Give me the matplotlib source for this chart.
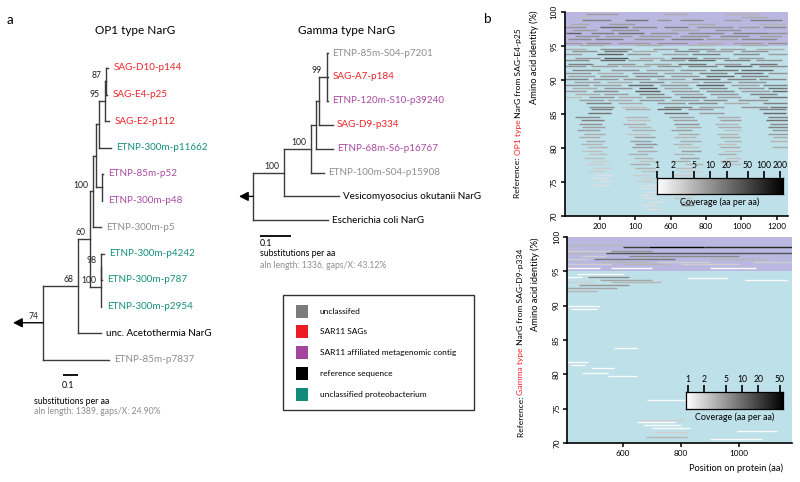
import numpy as np
import matplotlib
matplotlib.use("Agg")
import matplotlib.pyplot as plt
from matplotlib.colors import LogNorm, LinearSegmentedColormap
from matplotlib.collections import LineCollection
from matplotlib.patches import Rectangle
from matplotlib import font_manager

# narrow face if the system has it, else Lato
_names = {f.name for f in font_manager.fontManager.ttflist}
MAIN = 'Liberation Sans Narrow' if 'Liberation Sans Narrow' in _names else 'Lato'
plt.rcParams['font.family'] = [MAIN, 'DejaVu Sans']

# ---------------- data ----------------
# trees in newick form, branch lengths in substitutions per aa, support as node names
op1_newick = ("((((((((SAG-D10-p144:0.01,SAG-E4-p25:0.003)87:0.01,SAG-E2-p112:0.027)95:0.04,"
              "ETNP-300m-p11662:0.08):0.02,(ETNP-85m-p52:0.007,ETNP-300m-p48:0.002):0.04):0.02,"
              "ETNP-300m-p5:0.053)100:0.02,((ETNP-300m-p4242:0.02,ETNP-300m-p787:0.003)98:0.001,"
              "ETNP-300m-p2954:0.003)100:0.073)60:0.08,unc. Acetothermia NarG:0.153)68:0.233,"
              "ETNP-85m-p7837:0.44)74;")
op1_groups = {"SAG-D10-p144": "sag", "SAG-E4-p25": "sag", "SAG-E2-p112": "sag",
              "ETNP-300m-p11662": "proteo", "ETNP-85m-p52": "meta", "ETNP-300m-p48": "meta",
              "ETNP-300m-p5": "uncl", "ETNP-300m-p4242": "proteo", "ETNP-300m-p787": "proteo",
              "ETNP-300m-p2954": "proteo", "unc. Acetothermia NarG": "ref", "ETNP-85m-p7837": "uncl"}

gamma_newick = ("((((((ETNP-85m-S04-p7201:0.003,SAG-A7-p184:0.003,ETNP-120m-S10-p39240:0.003)99:0.026,"
                "SAG-D9-p334:0.045):0.01,ETNP-68m-S6-p16767:0.055):0.016,ETNP-100m-S04-p15908:0.042)100:0.087,"
                "Vesicomyosocius okutanii NarG:0.177)100:0.1,Escherichia coli NarG:0.242);")
gamma_groups = {"ETNP-85m-S04-p7201": "uncl", "SAG-A7-p184": "sag", "ETNP-120m-S10-p39240": "meta",
                "SAG-D9-p334": "sag", "ETNP-68m-S6-p16767": "meta", "ETNP-100m-S04-p15908": "uncl",
                "Vesicomyosocius okutanii NarG": "ref", "Escherichia coli NarG": "ref"}

legend_labels = ["unclassifed", "SAR11 SAGs", "SAR11 affiliated metagenomic contig",
                 "reference sequence", "unclassified proteobacterium"]
legend_keys = ["uncl", "sag", "meta", "ref", "proteo"]

# recruited reads: (start aa, end aa, identity %, coverage)
op1_reads = [
    (120, 300, 99.7, 8), (560, 700, 99.7, 6), (900, 1100, 99.7, 5),
    (80, 160, 99.2, 4), (1000, 1150, 99.2, 6),
    (100, 260, 98.8, 15), (340, 470, 98.8, 20), (520, 600, 98.8, 10), (650, 780, 98.8, 12), (900, 1000, 98.8, 8), (1050, 1230, 98.8, 15),
    (30, 140, 98.3, 6), (250, 400, 98.3, 8), (700, 850, 98.3, 6), (1100, 1250, 98.3, 5),
    (0, 120, 97.8, 10), (200, 360, 97.8, 25), (380, 520, 97.8, 12), (560, 700, 97.8, 15), (750, 950, 97.8, 10), (980, 1100, 97.8, 8), (1120, 1250, 97.8, 12),
    (40, 180, 97.3, 8), (260, 420, 97.3, 10), (600, 760, 97.3, 6), (850, 1000, 97.3, 10),
    (10, 90, 96.9, 30), (150, 280, 96.9, 15), (300, 450, 96.9, 20), (480, 640, 96.9, 10), (700, 900, 96.9, 12), (950, 1150, 96.9, 15), (1150, 1260, 96.9, 10),
    (60, 200, 96.4, 10), (230, 380, 96.4, 8), (420, 600, 96.4, 8), (650, 820, 96.4, 10), (880, 1040, 96.4, 12), (1100, 1230, 96.4, 8),
    (20, 150, 96.0, 12), (170, 330, 96.0, 15), (390, 560, 96.0, 10), (600, 780, 96.0, 15), (800, 980, 96.0, 8), (1000, 1200, 96.0, 12),
    (0, 100, 95.5, 8), (120, 260, 95.5, 10), (300, 480, 95.5, 8), (520, 700, 95.5, 10), (750, 900, 95.5, 6), (950, 1120, 95.5, 8), (1150, 1260, 95.5, 10),
    (80, 220, 95.2, 6), (400, 550, 95.2, 6), (700, 850, 95.2, 5), (1000, 1150, 95.2, 6),
    (0, 120, 94.6, 6), (200, 380, 94.6, 12), (500, 640, 94.6, 8), (700, 850, 94.6, 10), (880, 1020, 94.6, 8), (1080, 1240, 94.6, 6),
    (40, 180, 94.2, 10), (220, 350, 94.2, 20), (380, 520, 94.2, 6), (620, 760, 94.2, 12), (800, 950, 94.2, 8), (1000, 1150, 94.2, 10),
    (0, 100, 93.8, 8), (180, 330, 93.8, 30), (350, 480, 93.8, 10), (550, 700, 93.8, 8), (720, 880, 93.8, 15), (950, 1100, 93.8, 12), (1150, 1260, 93.8, 8),
    (60, 200, 93.3, 10), (220, 360, 93.3, 35), (420, 560, 93.3, 6), (600, 750, 93.3, 20), (780, 930, 93.3, 10), (980, 1130, 93.3, 8),
    (0, 140, 92.9, 12), (200, 340, 92.9, 25), (360, 500, 92.9, 8), (540, 680, 92.9, 10), (700, 850, 92.9, 25), (900, 1050, 92.9, 15), (1080, 1230, 92.9, 10),
    (20, 160, 92.4, 15), (240, 400, 92.4, 10), (450, 600, 92.4, 8), (640, 800, 92.4, 20), (850, 1000, 92.4, 10), (1050, 1200, 92.4, 20),
    (0, 120, 92.0, 10), (150, 300, 92.0, 8), (320, 480, 92.0, 6), (520, 660, 92.0, 10), (700, 860, 92.0, 15), (900, 1060, 92.0, 25), (1100, 1260, 92.0, 12),
    (40, 200, 91.5, 12), (260, 420, 91.5, 10), (460, 620, 91.5, 8), (650, 800, 91.5, 10), (820, 980, 91.5, 20), (1000, 1180, 91.5, 25),
    (0, 150, 91.1, 10), (180, 330, 91.1, 6), (380, 520, 91.1, 10), (560, 720, 91.1, 8), (760, 920, 91.1, 15), (960, 1120, 91.1, 20), (1150, 1260, 91.1, 10),
    (20, 170, 90.6, 8), (200, 360, 90.6, 10), (400, 560, 90.6, 12), (600, 760, 90.6, 10), (800, 960, 90.6, 25), (1000, 1150, 90.6, 15),
    (0, 130, 90.2, 15), (160, 300, 90.2, 10), (330, 480, 90.2, 10), (520, 680, 90.2, 8), (720, 880, 90.2, 20), (920, 1080, 90.2, 15), (1100, 1250, 90.2, 12),
    (50, 200, 89.7, 8), (240, 380, 89.7, 6), (420, 560, 89.7, 12), (600, 760, 89.7, 6), (780, 940, 89.7, 12), (980, 1140, 89.7, 10),
    (0, 140, 89.3, 10), (160, 320, 89.3, 8), (360, 500, 89.3, 25), (540, 700, 89.3, 10), (740, 900, 89.3, 30), (940, 1100, 89.3, 8), (1120, 1260, 89.3, 15),
    (40, 180, 88.8, 6), (220, 380, 88.8, 10), (420, 520, 88.8, 35), (560, 720, 88.8, 8), (760, 920, 88.8, 15), (980, 1130, 88.8, 10), (1150, 1260, 88.8, 20),
    (0, 120, 88.4, 8), (160, 300, 88.4, 12), (400, 540, 88.4, 30), (600, 760, 88.4, 10), (800, 960, 88.4, 12), (1000, 1160, 88.4, 8), (1170, 1260, 88.4, 25),
    (60, 200, 87.9, 6), (220, 360, 87.9, 8), (420, 560, 87.9, 15), (620, 780, 87.9, 8), (820, 980, 87.9, 10), (1050, 1200, 87.9, 15),
    (0, 100, 87.5, 4), (140, 280, 87.5, 10), (300, 440, 87.5, 6), (460, 600, 87.5, 12), (650, 800, 87.5, 15), (860, 1000, 87.5, 8), (1100, 1260, 87.5, 20),
    (80, 220, 87.0, 8), (240, 380, 87.0, 6), (420, 560, 87.0, 10), (600, 760, 87.0, 8), (780, 920, 87.0, 12), (980, 1150, 87.0, 10),
    (120, 260, 86.6, 15), (300, 440, 86.6, 6), (520, 680, 86.6, 10), (700, 860, 86.6, 12), (900, 1040, 86.6, 6), (1120, 1260, 86.6, 15),
    (140, 280, 86.1, 12), (320, 460, 86.1, 4), (560, 720, 86.1, 15), (760, 900, 86.1, 8), (1000, 1150, 86.1, 10), (1160, 1260, 86.1, 20),
    (150, 270, 85.7, 15), (340, 480, 85.7, 6), (520, 660, 85.7, 25), (700, 840, 85.7, 10), (1100, 1250, 85.7, 15),
    (130, 260, 85.2, 20), (560, 700, 85.2, 20), (760, 900, 85.2, 8), (1120, 1250, 85.2, 25),
    (60, 200, 84.6, 12), (340, 470, 84.6, 5), (590, 730, 84.6, 8), (860, 990, 84.6, 6), (1150, 1265, 84.6, 15),
    (90, 220, 84.1, 15), (350, 480, 84.1, 4), (610, 750, 84.1, 8), (880, 1000, 84.1, 8), (1140, 1265, 84.1, 20),
    (80, 210, 83.6, 10), (330, 460, 83.6, 6), (620, 760, 83.6, 10), (850, 980, 83.6, 5), (1160, 1265, 83.6, 12),
    (100, 230, 83.1, 8), (360, 490, 83.1, 5), (630, 770, 83.1, 6), (870, 1000, 83.1, 6), (1150, 1265, 83.1, 15),
    (70, 200, 82.6, 8), (380, 510, 82.6, 6), (600, 720, 82.6, 8), (900, 1000, 82.6, 4), (1170, 1265, 82.6, 10),
    (110, 230, 82.1, 6), (350, 480, 82.1, 4), (640, 760, 82.1, 6), (860, 980, 82.1, 5), (1150, 1265, 82.1, 8),
    (80, 200, 81.6, 6), (390, 510, 81.6, 8), (620, 740, 81.6, 5), (880, 990, 81.6, 6), (1180, 1265, 81.6, 6),
    (120, 230, 81.1, 6), (370, 490, 81.1, 8), (650, 770, 81.1, 6), (900, 1000, 81.1, 5), (1160, 1260, 81.1, 5),
    (90, 210, 80.6, 5), (400, 520, 80.6, 10), (610, 720, 80.6, 5), (860, 970, 80.6, 4),
    (130, 240, 80.1, 5), (380, 500, 80.1, 8), (640, 760, 80.1, 4), (880, 990, 80.1, 6), (1170, 1265, 80.1, 6),
    (100, 210, 79.6, 4), (410, 520, 79.6, 6), (660, 770, 79.6, 8), (900, 1000, 79.6, 4),
    (140, 240, 79.1, 4), (360, 470, 79.1, 6), (620, 730, 79.1, 5), (870, 970, 79.1, 6),
    (110, 220, 78.6, 4), (390, 500, 78.6, 5), (650, 760, 78.6, 8), (910, 1000, 78.6, 4),
    (150, 250, 78.1, 3), (420, 520, 78.1, 4), (600, 710, 78.1, 6), (880, 980, 78.1, 6),
    (120, 230, 77.6, 3), (370, 480, 77.6, 6), (680, 780, 77.6, 5), (900, 1000, 77.6, 4),
    (160, 260, 77.1, 3), (400, 510, 77.1, 5), (630, 740, 77.1, 4),
    (130, 230, 76.6, 3), (430, 530, 76.6, 4), (660, 770, 76.6, 3),
    (170, 270, 76.1, 2), (380, 490, 76.1, 3), (610, 720, 76.1, 3),
    (140, 240, 75.6, 2), (440, 540, 75.6, 3), (680, 780, 75.6, 3),
    (180, 270, 75.1, 2), (400, 500, 75.1, 3), (640, 740, 75.1, 3),
    (160, 250, 74.6, 2), (450, 540, 74.6, 2), (620, 720, 74.6, 2),
    (420, 520, 74.1, 2), (660, 760, 74.1, 2),
    (460, 550, 73.6, 2), (600, 700, 73.6, 2),
    (410, 500, 73.1, 2), (640, 740, 73.1, 3),
    (440, 530, 72.6, 2), (620, 720, 72.6, 4),
    (470, 560, 72.1, 2), (650, 740, 72.1, 6),
    (430, 520, 71.6, 2), (660, 730, 71.6, 15),
    (460, 540, 71.1, 2),
]

gamma_reads = [
    (407, 600, 98.9, 3),
    (600, 690, 98.5, 20), (690, 880, 98.5, 50), (880, 1183, 98.5, 30),
    (407, 560, 98.0, 2), (560, 700, 98.0, 5),
    (407, 500, 97.6, 3), (540, 1183, 97.6, 15),
    (460, 540, 97.2, 2), (620, 1000, 97.2, 6),
    (407, 480, 96.8, 2), (500, 780, 96.8, 8), (900, 1100, 96.8, 3),
    (520, 700, 96.4, 3), (720, 900, 96.4, 2), (1050, 1183, 96.4, 2),
    (407, 560, 96.0, 2), (600, 760, 96.0, 3), (800, 1000, 96.0, 2),
    (407, 520, 95.5, 1), (560, 700, 95.5, 1), (900, 1060, 95.5, 1),
    (440, 600, 94.6, 1),
    (407, 460, 94.2, 1), (480, 620, 94.2, 6),
    (820, 960, 94.0, 1),
    (520, 700, 93.8, 4), (1022, 1166, 93.8, 1),
    (407, 500, 93.4, 2), (560, 730, 93.4, 3),
    (450, 620, 93.0, 5),
    (407, 580, 92.6, 4),
    (407, 510, 92.2, 3),
    (407, 520, 90.0, 1),
    (420, 510, 89.5, 1),
    (568, 648, 83.8, 1),
    (407, 480, 81.8, 1),
    (420, 470, 81.4, 1),
    (490, 570, 80.9, 1),
    (460, 550, 80.2, 1),
    (550, 650, 79.8, 1),
    (683, 821, 76.3, 1),
    (660, 810, 73.4, 2),
    (650, 780, 73.0, 1),
    (670, 800, 72.6, 1),
    (700, 830, 72.2, 1),
    (993, 1130, 71.8, 1),
    (700, 830, 71.6, 2),
    (680, 820, 70.9, 3),
    (900, 1080, 70.6, 1),
]

op1_cov_ticks = [1, 2, 5, 10, 20, 50, 100, 200]
gamma_cov_ticks = [1, 2, 5, 10, 20, 50]

# ---------------- style ----------------
W, H = 800, 482
GROUP_COLORS = {"uncl": "#8e8e8e", "sag": "#ee2229", "meta": "#aa4aa3", "ref": "#000000", "proteo": "#16907f"}
LEGEND_COLORS = {"uncl": "#7b7b7b", "sag": "#ec1c24", "meta": "#a3459c", "ref": "#000000", "proteo": "#138a7a"}
LINE = "#3c3c3c"
PURPLE = "#bab8e0"
BLUE = "#bee0e9"
cmap = LinearSegmentedColormap.from_list("cov", ["#ffffff", "#000000"])

fig = plt.figure(figsize=(W / 100, H / 100), dpi=100)
renderer = fig.canvas.get_renderer()


def fit_size(s, width_px):
    # font size that gives the text the width it has in the reference
    t = fig.text(0, 0, s, fontsize=10)
    w = t.get_window_extent(renderer).width
    t.remove()
    return 10 * width_px / w


def px_axes(x0, y0, x1, y1):
    return fig.add_axes([x0 / W, 1 - y1 / H, (x1 - x0) / W, (y1 - y0) / H])


def ftext(x, y, s, **kw):
    return fig.text(x / W, 1 - y / H, s, **kw)


def parse_newick(s):
    pos = 0

    def node():
        nonlocal pos
        children = []
        if s[pos] == '(':
            pos += 1
            children.append(node())
            while s[pos] == ',':
                pos += 1
                children.append(node())
            pos += 1
        start = pos
        while s[pos] not in ':,);':
            pos += 1
        name = s[start:pos]
        length = 0.0
        if s[pos] == ':':
            pos += 1
            start = pos
            while s[pos] not in ',);':
                pos += 1
            length = float(s[start:pos])
        return {'name': name, 'len': length, 'children': children}

    return node()


def layout(n, x, counter):
    n['x'] = x
    if not n['children']:
        n['y'] = counter[0]
        counter[0] += 1
    else:
        for c in n['children']:
            layout(c, x + c['len'], counter)
        n['y'] = (n['children'][0]['y'] + n['children'][-1]['y']) / 2


support_size = fit_size("100", 15)


def draw_tree(ax, newick, groups, arrow_len, tipsize, tipgap):
    root = parse_newick(newick)
    layout(root, 0.0, [0])
    segs = []

    def walk(n):
        if not n['children']:
            ax.annotate(n['name'], (n['x'], n['y']), xytext=(tipgap, 0), textcoords='offset points',
                        va='center', ha='left', fontsize=tipsize,
                        color=GROUP_COLORS[groups[n['name']]])
            return
        ys = [c['y'] for c in n['children']]
        segs.append([(n['x'], min(ys)), (n['x'], max(ys))])
        for c in n['children']:
            segs.append([(n['x'], c['y']), (c['x'], c['y'])])
            walk(c)
        if n['name']:
            ax.annotate(n['name'], (n['x'], n['y']), xytext=(-3.5, 1.2), textcoords='offset points',
                        ha='right', va='bottom', fontsize=support_size, color='#222222')

    walk(root)
    ax.add_collection(LineCollection(segs, colors=LINE, linewidths=1.0, capstyle='projecting'))
    ax.annotate('', xy=(-arrow_len, root['y']), xytext=(0, root['y']),
                arrowprops=dict(arrowstyle='-|>,head_length=0.55,head_width=0.28', color='black',
                                lw=1.0, shrinkA=0, shrinkB=0))
    return root


# base axes in pixel units for legend box
base = fig.add_axes([0, 0, 1, 1])
base.set_xlim(0, W)
base.set_ylim(H, 0)
base.axis('off')

# ---- OP1 tree: root at x=43 px, 150 px per subst/aa; tips from y=68 px, 26.5 px apart
ax1 = px_axes(0, 0, 270, H)
ax1.set_xlim((0 - 43) / 150, (270 - 43) / 150)
ax1.set_ylim((H - 68) / 26.5, (0 - 68) / 26.5)
ax1.axis('off')
draw_tree(ax1, op1_newick, op1_groups, 30 / 150, fit_size("ETNP-300m-p11662", 92), 4)
sb_y = (375 - 68) / 26.5
ax1.plot([0.134, 0.234], [sb_y, sb_y], color='black', lw=1.3, solid_capstyle='butt')

# ---- Gamma tree: root at x=253 px, 310 px per subst/aa; tips from y=53 px, 23.9 px apart
ax2 = px_axes(230, 0, 480, H)
ax2.set_xlim((230 - 253) / 310, (480 - 253) / 310)
ax2.set_ylim((H - 53) / 23.9, (0 - 53) / 23.9)
ax2.axis('off')
draw_tree(ax2, gamma_newick, gamma_groups, 14 / 310,
          fit_size("Vesicomyosocius okutanii NarG", 138), 3)
sb_y2 = (236 - 53) / 23.9
ax2.plot([(260 - 253) / 310, (260 - 253) / 310 + 0.1], [sb_y2, sb_y2], color='black', lw=1.3,
         solid_capstyle='butt')

title_size = fit_size("OP1 type NarG", 80)
ftext(10, 20, "a", fontsize=title_size * 1.15, va='center', ha='center')
ftext(488, 19, "b", fontsize=title_size * 1.15, va='center', ha='center')
ftext(135, 31, "OP1 type NarG", fontsize=title_size, ha='center', va='center')
ftext(347, 31, "Gamma type NarG", fontsize=title_size, ha='center', va='center')

sub_size = fit_size("substitutions per aa", 76)
aln_size = fit_size("aln length: 1389, gaps/X: 24.90%", 126)
ftext(68, 386, "0.1", fontsize=sub_size, ha='center', va='center')
ftext(34, 401, "substitutions per aa", fontsize=sub_size, ha='left', va='center')
ftext(34, 412, "aln length: 1389, gaps/X: 24.90%", fontsize=aln_size, ha='left', va='center', color='#8e8e8e')
ftext(260, 244, "0.1", fontsize=sub_size, ha='left', va='center')
ftext(260, 254, "substitutions per aa", fontsize=sub_size, ha='left', va='center')
ftext(260, 265, "aln length: 1336, gaps/X: 43.12%", fontsize=aln_size, ha='left', va='center', color='#8e8e8e')

# ---- legend box
leg_size = fit_size("SAR11 affiliated metagenomic contig", 136)
base.add_patch(Rectangle((283, 295), 191, 115, fill=False, ec='#333333', lw=1.0))
for i, (lab, key) in enumerate(zip(legend_labels, legend_keys)):
    yc = 311 + i * 20.8
    base.add_patch(Rectangle((296, yc - 6.5), 11.5, 13, color=LEGEND_COLORS[key], lw=0))
    base.text(320, yc, lab, fontsize=leg_size, va='center', ha='left')


# ---- recruitment plots
def stacked_vertical(x, yc, pieces, size):
    objs = []
    for s, c in pieces:
        objs.append(ftext(x, 0, s, rotation=90, color=c, fontsize=size, ha='center', va='bottom'))
    hs = [t.get_window_extent(renderer).height for t in objs]
    ybot = yc + sum(hs) / 2
    for t, h in zip(objs, hs):
        t.set_position((x / W, 1 - ybot / H))
        ybot -= h


tick_size = fit_size("1000", 19)
ylab_size = fit_size("Amino acid identity (%)", 94)
cov_size = fit_size("Coverage (aa per aa)", 79)
cbtick_size = fit_size("200", 15)


def recruit_panel(box, xlim, reads, xticks, xticklabels, norm):
    ax = px_axes(*box)
    ax.set_xlim(*xlim)
    ax.set_ylim(70, 100)
    ax.axhspan(95, 100, color=PURPLE, lw=0, zorder=0)
    ax.axhspan(70, 95, color=BLUE, lw=0, zorder=0)
    segs = [[(s, y), (e, y)] for s, e, y, c in reads]
    cols = [cmap(norm(c)) for s, e, y, c in reads]
    ax.add_collection(LineCollection(segs, colors=cols, linewidths=1.0, zorder=2))
    ax.set_xticks(xticks)
    ax.set_xticklabels(xticklabels)
    ax.set_yticks([70, 75, 80, 85, 90, 95, 100])
    for sp in ['top', 'right']:
        ax.spines[sp].set_visible(False)
    for sp in ['left', 'bottom']:
        ax.spines[sp].set_linewidth(1.2)
    ax.tick_params(axis='both', length=3, width=1.1, labelsize=tick_size, pad=2)
    for t in ax.get_yticklabels():
        t.set_rotation(90)
        t.set_va('center')
    ax.set_ylabel("Amino acid identity (%)", fontsize=ylab_size)
    return ax


def coverage_bar(box, lo, hi, ticks):
    cax = px_axes(*box)
    cax.set_zorder(5)
    edges = np.logspace(np.log10(lo), np.log10(hi), 257)
    mids = np.sqrt(edges[:-1] * edges[1:])
    norm = LogNorm(lo, hi)
    cax.pcolormesh(edges, [0, 1], mids[None, :], cmap=cmap, norm=norm, shading='flat')
    cax.set_xscale('log')
    cax.set_xlim(lo, hi)
    cax.set_ylim(0, 1)
    cax.set_yticks([])
    cax.xaxis.tick_top()
    cax.set_xticks(ticks)
    cax.set_xticklabels([str(t) for t in ticks])
    cax.xaxis.set_minor_locator(matplotlib.ticker.NullLocator())
    cax.tick_params(axis='x', length=5, width=1.2, labelsize=cbtick_size, pad=1)
    for sp in cax.spines.values():
        sp.set_linewidth(0.9)
    cax.text(0.5, -0.2, "Coverage (aa per aa)", transform=cax.transAxes, ha='center', va='top',
             fontsize=cov_size)
    return norm


norm_top = coverage_bar((657, 178, 783, 194), 1.0, 227, op1_cov_ticks)
ax_t = recruit_panel((564.7, 12, 788.3, 216), (0, 1265), op1_reads,
                     [200, 400, 600, 800, 1000, 1200], ["200", "100", "600", "800", "1000", "1200"], norm_top)
ax_t.yaxis.set_label_coords(-0.115, 0.78)

norm_bot = coverage_bar((686, 392, 783, 409), 0.918, 56.8, gamma_cov_ticks)
ax_b = recruit_panel((567, 237, 792, 443), (407, 1183), gamma_reads,
                     [600, 800, 1000], ["600", "800", "1000"], norm_bot)
ax_b.yaxis.set_label_coords(-0.12, 0.77)
ftext(736, 468, "Position on protein (aa)", fontsize=fit_size("Position on protein (aa)", 95),
      ha='center', va='center')

ref_size = fit_size("Reference: OP1 type NarG from SAG-E4-p25", 170)
stacked_vertical(518, 113, [("Reference: ", "black"), ("OP1 type", "#ee2229"),
                            (" NarG from SAG-E4-p25", "black")], ref_size)
stacked_vertical(521, 343, [("Reference: ", "black"), ("Gamma type", "#ee2229"),
                            (" NarG from SAG-D9-p334", "black")], ref_size)

fig.savefig("out.png", dpi=100)
